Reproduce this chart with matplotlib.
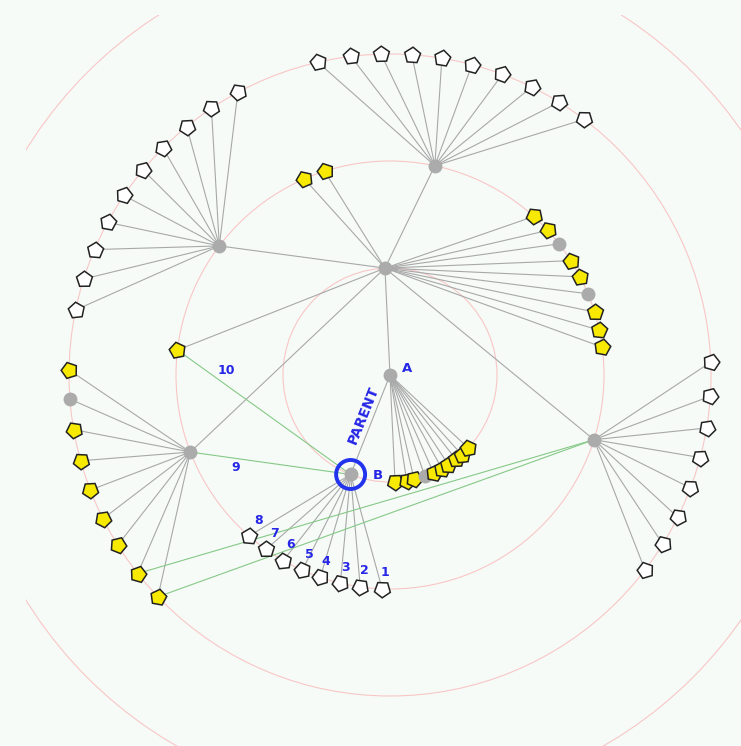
import numpy as np
import matplotlib
matplotlib.use('Agg')
import matplotlib.pyplot as plt
from matplotlib.patches import Circle, Rectangle

# ---- layout frame: focus node A at the centre, concentric rings ----
center_x, center_y = 390, 375
ring_step = 107
ring_levels = [1, 2, 3, 4]

# ---- internal (gray hub) nodes ----
inner_names = ['A', 'R', 'B', 'NW', 'N', 'E', 'W']
inner_rings = [0, 1, 1, 2, 2, 2, 2]
inner_angles = [0, 92.7, 248.4, 142.9, 77.9, 342.4, 201.1]
inner_parents = [None, 'A', 'A', 'R', 'R', 'R', 'R']

# ---- leaf groups: parent, ring, angles (deg), kinds (Y yellow, G gray, W white) ----
leaf_A_angles = [272.7, 279, 283, 289, 294, 299, 303, 308, 312, 317]
leaf_A_kinds = 'YYYGYYYYYY'
leaf_R_angles = [113.6, 107.8, 47.8, 42.5, 37.8, 32.3, 27.3, 22.3, 17.1, 12.1, 7.5, 173.3]
leaf_R_kinds = 'YYYYGYYGYYYY'
leaf_B_angles = [267.9, 262, 256.6, 251, 245.8, 240.1, 234.6, 228.8]
leaf_B_kinds = 'WWWWWWWW'
leaf_B_labels = ['1', '2', '3', '4', '5', '6', '7', '8']
leaf_NW_angles = [168.3, 162.6, 157, 151.6, 146, 140.3, 135, 129.3, 123.8, 118.3]
leaf_NW_kinds = 'WWWWWWWWWW'
leaf_N_angles = [103, 97, 91.6, 86.1, 80.7, 75.2, 69.5, 63.8, 58.2, 52.8]
leaf_N_kinds = 'WWWWWWWWWW'
leaf_E_angles = [2.3, -3.8, -9.5, -14.9, -20.6, -26.3, -31.8, -37.4]
leaf_E_kinds = 'WWWWWWWW'
leaf_W_angles = [179.1, 184.3, 189.8, 195.5, 201, 206.6, 212, 218.2, 223.7]
leaf_W_kinds = 'YGYYYYYYY'

leaf_groups = [
    ('A', 1, leaf_A_angles, leaf_A_kinds),
    ('R', 2, leaf_R_angles, leaf_R_kinds),
    ('B', 2, leaf_B_angles, leaf_B_kinds),
    ('NW', 3, leaf_NW_angles, leaf_NW_kinds),
    ('N', 3, leaf_N_angles, leaf_N_kinds),
    ('E', 3, leaf_E_angles, leaf_E_kinds),
    ('W', 3, leaf_W_angles, leaf_W_kinds),
]

# ---- extra (green) cross links: from, to, label ----
link_from = ['B', 'B', 'E', 'E']
link_to = ['R12', 'W', 'W8', 'W9']
link_labels = ['10', '9', '', '']

# ---- colours ----
bg_color = '#f6fbf8'
ring_color = '#f9c6c6'
edge_color = '#a8a8a8'
link_color = '#86c986'
gray_color = '#ababab'
yellow_color = '#f7ea00'
label_color = '#2626e6'
label_font = 'DejaVu Sans'

def polar(ring, ang):
    r = ring * ring_step
    t = np.deg2rad(ang)
    return center_x + r * np.cos(t), center_y - r * np.sin(t)

pos = {}
ang_of = {}
for n, rg, a in zip(inner_names, inner_rings, inner_angles):
    pos[n] = polar(rg, a)
    ang_of[n] = a

leaves = []
for parent, rg, angs, kinds in leaf_groups:
    for i, (a, k) in enumerate(zip(angs, kinds)):
        name = f'{parent}{i + 1}'
        pos[name] = polar(rg, a)
        ang_of[name] = a
        leaves.append((name, parent, k))

fig = plt.figure(figsize=(7.41, 7.46), dpi=100)
fig.patch.set_facecolor(bg_color)
ax = fig.add_axes([0, 0, 1, 1])
ax.set_facecolor(bg_color)
ax.set_xlim(0, 741)
ax.set_ylim(746, 0)
ax.set_aspect('equal')
ax.axis('off')

# rings (clipped to the drawing area of the viewer)
clip = Rectangle((26, 15), 741 - 26, 746 - 15, transform=ax.transData, visible=False)
ax.add_patch(clip)
for lv in ring_levels:
    c = Circle((center_x, center_y), lv * ring_step, fill=False,
               ec=ring_color, lw=0.8, zorder=1)
    ax.add_patch(c)
    c.set_clip_path(clip)

# tree edges
for n, p in zip(inner_names, inner_parents):
    if p is not None:
        (x0, y0), (x1, y1) = pos[p], pos[n]
        ax.plot([x0, x1], [y0, y1], color=edge_color, lw=0.8, zorder=2)
for name, parent, k in leaves:
    (x0, y0), (x1, y1) = pos[parent], pos[name]
    ax.plot([x0, x1], [y0, y1], color=edge_color, lw=0.8, zorder=2)

# green cross links
for a, b, lab in zip(link_from, link_to, link_labels):
    (x0, y0), (x1, y1) = pos[a], pos[b]
    ax.plot([x0, x1], [y0, y1], color=link_color, lw=0.8, zorder=2)

# link labels near the far end
(x0, y0), (x1, y1) = pos[link_to[0]], pos[link_from[0]]
ax.text(x0 + 0.28 * (x1 - x0), y0 + 0.28 * (y1 - y0) - 14, link_labels[0],
        color=label_color, fontsize=9, fontweight='bold', ha='center', va='center',
        family=label_font, zorder=6)
(x0, y0), (x1, y1) = pos[link_to[1]], pos[link_from[1]]
ax.text(x0 + 0.28 * (x1 - x0), y0 + 0.28 * (y1 - y0) + 9, link_labels[1],
        color=label_color, fontsize=9, fontweight='bold', ha='center', va='center',
        family=label_font, zorder=6)

# leaf nodes
for name, parent, k in leaves:
    x, y = pos[name]
    if k == 'G':
        ax.plot(x, y, marker='o', ms=10, mfc=gray_color, mec='none', zorder=4)
    else:
        fc = yellow_color if k == 'Y' else 'white'
        ax.plot(x, y, marker=(5, 0, ang_of[name] - 90), ms=12, mfc=fc,
                mec='#222222', mew=1.1, zorder=4)

# hub nodes
for n in inner_names:
    x, y = pos[n]
    ax.plot(x, y, marker='o', ms=10, mfc=gray_color, mec='none', zorder=4)

# highlight ring around B
bx, by = pos['B']
ax.add_patch(Circle((bx, by), 14.5, fill=False, ec='#2233ee', lw=2.8, zorder=5))

# labels
ax.text(pos['A'][0] + 17, pos['A'][1] - 7, 'A', color=label_color, fontsize=9.5,
        fontweight='bold', ha='center', va='center', family=label_font, zorder=6)
ax.text(bx + 27, by + 1, 'B', color=label_color, fontsize=9.5,
        fontweight='bold', ha='center', va='center', family=label_font, zorder=6)
ax_, ay_ = pos['A']
mx, my = bx + 0.6 * (ax_ - bx), by + 0.6 * (ay_ - by)
ax.text(mx - 11, my, 'PARENT', color=label_color, fontsize=10, fontweight='bold',
        rotation=68, ha='center', va='center', family=label_font, zorder=6)
for i, lab in enumerate(leaf_B_labels):
    x, y = pos[f'B{i + 1}']
    ax.text(x + 3 + i * 0.9, y - 16, lab, color=label_color, fontsize=9,
            fontweight='bold', ha='center', va='center', family=label_font, zorder=6)

fig.savefig('out.png', dpi=100, facecolor=bg_color)
